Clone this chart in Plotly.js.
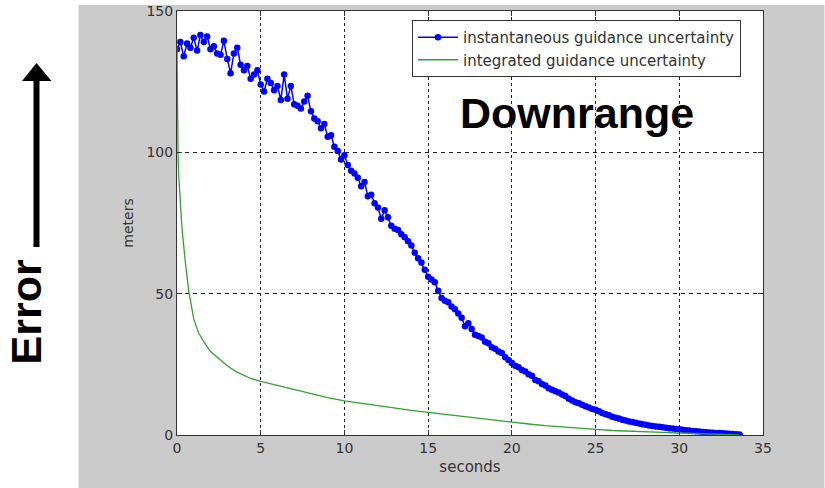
<!DOCTYPE html>
<html>
<head>
<meta charset="utf-8">
<script src="https://cdn.plot.ly/plotly-3.0.1.min.js"></script>
<style>html,body{margin:0;padding:0;background:#fff;}#chart{width:825px;height:488px;}</style>
</head>
<body>
<div id="chart"></div>
<script>
// ---- data ----
const instTime = [
  0.0,0.2,0.4,0.6,0.8,1.0,1.2,1.4,1.6,1.8,2.0,2.2,2.4,2.6,2.8,3.0,3.2,3.4,3.6,3.8,
  4.0,4.2,4.4,4.6,4.8,5.0,5.2,5.4,5.6,5.8,6.0,6.2,6.4,6.6,6.8,7.0,7.2,7.4,7.6,7.8,
  8.0,8.2,8.4,8.6,8.8,9.0,9.2,9.4,9.6,9.8,10.0,10.2,10.4,10.6,10.8,11.0,11.2,11.4,11.6,11.8,
  12.0,12.2,12.4,12.6,12.8,13.0,13.2,13.4,13.6,13.8,14.0,14.2,14.4,14.6,14.8,15.0,15.2,15.4,15.6,15.8,
  16.0,16.2,16.4,16.6,16.8,17.0,17.2,17.4,17.6,17.8,18.0,18.2,18.4,18.6,18.8,19.0,19.2,19.4,19.6,19.8,
  20.0,20.2,20.4,20.6,20.8,21.0,21.2,21.4,21.6,21.8,22.0,22.2,22.4,22.6,22.8,23.0,23.2,23.4,23.6,23.8,
  24.0,24.2,24.4,24.6,24.8,25.0,25.2,25.4,25.6,25.8,26.0,26.2,26.4,26.6,26.8,27.0,27.2,27.4,27.6,27.8,
  28.0,28.2,28.4,28.6,28.8,29.0,29.2,29.4,29.6,29.8,30.0,30.2,30.4,30.6,30.8,31.0,31.2,31.4,31.6,31.8,
  32.0,32.2,32.4,32.6,32.8,33.0,33.2,33.4,33.6
];
const instUncertainty = [
  136.5,139,134,138.5,137,140.5,136,141.5,139,141,136.5,137.5,135,134.5,139.5,133,128,135,137,131,
  129,130.5,126,127.5,129,124,121.5,126,124.5,122,123.5,118.5,127.5,119,123.5,117,116.5,115.5,118,120,
  114.5,112,111,108.5,110,105.5,106,102,100.5,97.5,99,95.5,93.5,92.5,91,88,89.5,84.5,85,82,
  80.5,76.5,79.5,77,74,73,72.5,71,70,68.5,67,64.5,62.5,61,58.5,56,55,54,51,48.5,
  47.5,47,45.5,44.5,43,41.5,38.5,39.5,37.5,35.5,35,34.5,33,32.5,31,30.5,29.5,29,27.5,26.5,
  25.5,24.5,24,23,22.5,21.5,21,19.5,19,18,17.5,16.5,16,15.5,15,14.3,13.8,12.8,12.2,11.6,
  11.2,10.7,10.2,9.7,9.2,8.9,8.4,7.8,7.3,7.0,6.5,6.1,5.8,5.4,5.1,4.8,4.6,4.3,4.1,3.8,
  3.6,3.4,3.2,3.0,2.9,2.7,2.6,2.4,2.3,2.1,2.0,1.9,1.7,1.6,1.4,1.3,1.2,1.1,1.0,0.9,
  0.8,0.7,0.7,0.6,0.5,0.4,0.35,0.3,0.2
];
const intTime = [0,0.02,0.06,0.1,0.15,0.3,0.5,0.7,1.0,1.3,1.6,2.0,2.6,3.0,3.5,4.4,5,6,7,8,9,10,11,12,13,14,15,16,17,18,19,20,21,22,23,24,25,26,27,28,29,30,31,32,33,33.6];
const intUncertainty = [138,116,100,92,87,73,61,51,41,36,33,29.5,26.5,24.5,22.5,20,19,17.5,16,14.5,13.2,12.1,11.2,10.3,9.5,8.7,8.0,7.3,6.5,5.8,5.1,4.5,3.9,3.3,2.8,2.4,2.0,1.6,1.3,1.1,0.9,0.7,0.5,0.3,0.1,0];
const xTickVals = [0,5,10,15,20,25,30,35];
const yTickVals = [0,50,100,150];
const seriesNames = ['instantaneous guidance uncertainty','integrated guidance uncertainty'];

// ---- geometry helpers (pixels -> paper) ----
const W = 825, H = 488;
const L = 176.7, R = 763.5, T = 11, B = 435;
const px = v => (v - L) / (R - L);
const py = v => (B - v) / (B - T);

const tickFont = {family: 'DejaVu Sans', size: 14, color: '#333'};

const traces = [
  {
    x: instTime, y: instUncertainty, name: seriesNames[0],
    type: 'scatter', mode: 'lines+markers',
    line: {color: '#0000ff', width: 1.5},
    marker: {color: '#0000ff', size: 6.5}
  },
  {
    x: intTime, y: intUncertainty, name: seriesNames[1],
    type: 'scatter', mode: 'lines',
    line: {color: '#33a033', width: 1.3}
  }
];

const layout = {
  width: W, height: H,
  margin: {l: L, r: W - R, t: T, b: H - B, pad: 0},
  paper_bgcolor: '#ffffff',
  plot_bgcolor: '#ffffff',
  showlegend: true,
  legend: {
    x: px(412), y: py(20), xanchor: 'left', yanchor: 'top',
    bgcolor: '#ffffff', bordercolor: '#333', borderwidth: 1,
    font: {family: 'DejaVu Sans', size: 15, color: '#333'},
    tracegroupgap: 0, itemwidth: 40
  },
  xaxis: {
    range: [0, 35], tickvals: xTickVals, ticktext: xTickVals.map(String),
    ticks: 'inside', ticklen: 5, tickcolor: '#333',
    showline: true, linecolor: '#333', linewidth: 1, mirror: 'ticks',
    showgrid: true, gridcolor: '#222', gridwidth: 1, griddash: '3px,3px',
    zeroline: false, tickfont: tickFont, automargin: false,
    title: {text: 'seconds', font: {family: 'DejaVu Sans', size: 15, color: '#333'}, standoff: 6}
  },
  yaxis: {
    range: [0, 150], tickvals: yTickVals, ticktext: yTickVals.map(String),
    ticks: 'inside', ticklen: 5, tickcolor: '#333',
    showline: true, linecolor: '#333', linewidth: 1, mirror: 'ticks',
    showgrid: true, gridcolor: '#222', gridwidth: 1, griddash: '4px,4px',
    zeroline: false, tickfont: tickFont, automargin: false,
    title: {text: 'meters', font: {family: 'DejaVu Sans', size: 14, color: '#333'}, standoff: 9}
  },
  shapes: [
    {type: 'rect', xref: 'paper', yref: 'paper', layer: 'below',
     x0: px(78), x1: px(825), y0: py(488), y1: py(5),
     fillcolor: '#cbcbcb', line: {width: 0}},
    {type: 'rect', xref: 'paper', yref: 'paper', layer: 'below',
     x0: 0, x1: 1, y0: 0, y1: 1,
     fillcolor: '#ffffff', line: {width: 0}},
    {type: 'line', xref: 'paper', yref: 'paper',
     x0: px(36), x1: px(36), y0: py(247), y1: py(78),
     line: {color: '#000', width: 6}},
    {type: 'path', xref: 'paper', yref: 'paper',
     path: 'M ' + px(21.5) + ' ' + py(81) + ' L ' + px(51) + ' ' + py(81) + ' L ' + px(36) + ' ' + py(63) + ' Z',
     fillcolor: '#000', line: {color: '#000', width: 0}}
  ],
  annotations: [
    {text: 'Downrange', xref: 'paper', yref: 'paper', x: px(577), y: py(113),
     xanchor: 'center', yanchor: 'middle', showarrow: false,
     font: {family: 'Liberation Sans', size: 43, color: '#000', weight: 'bold'}},
    {text: 'Error', xref: 'paper', yref: 'paper', x: px(25), y: py(312),
     xanchor: 'center', yanchor: 'middle', showarrow: false, textangle: -90,
     font: {family: 'Liberation Sans', size: 43, color: '#000', weight: 'bold'}}
  ]
};

Plotly.newPlot('chart', traces, layout, {displayModeBar: false, staticPlot: true});
</script>
</body>
</html>
